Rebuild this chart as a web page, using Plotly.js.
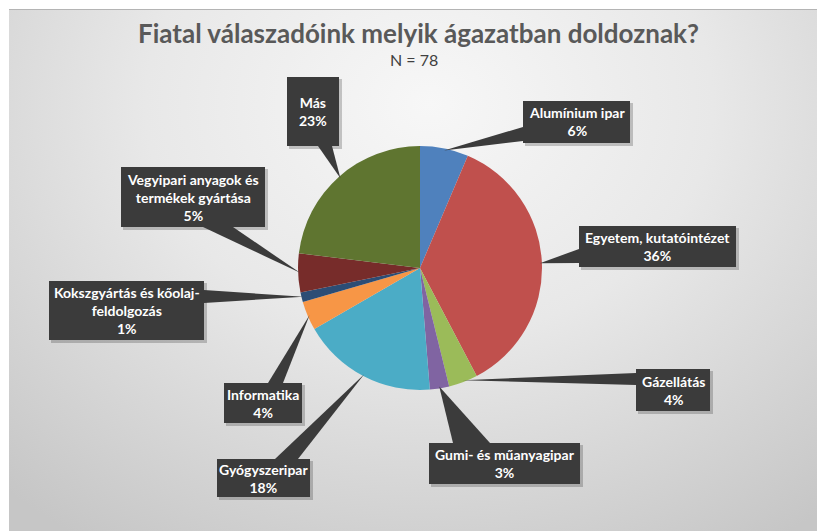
<!DOCTYPE html>
<html>
<head>
<meta charset="utf-8">
<script src="https://cdn.plot.ly/plotly-3.0.1.min.js"></script>
<style>
  html, body { margin: 0; padding: 0; background: #ffffff; }
  #wrap { position: relative; width: 817px; height: 531px; overflow: hidden; }
  #bg { position: absolute; left: 9px; top: 9px; width: 808px; height: 522px;
        border-top: 1px solid #b4b4b4; box-sizing: border-box;
        background: radial-gradient(ellipse 78% 100% at 52% 18%, #f7f7f7 0%, #e8e8e8 45%, #c6c6c6 100%); }
  #chart { position: absolute; left: 0; top: 0; width: 817px; height: 531px; }
</style>
</head>
<body>
<div id="wrap"><div id="bg"></div><div id="chart"></div></div>
<script>
// ---- data ----
const categories = ["Alumínium ipar", "Egyetem, kutatóintézet", "Gázellátás", "Gumi- és műanyagipar",
  "Gyógyszeripar", "Informatika", "Kokszgyártás és kőolaj-feldolgozás",
  "Vegyipari anyagok és termékek gyártása", "Más"];
const displayLabels = ["Alumínium ipar", "Egyetem, kutatóintézet", "Gázellátás", "Gumi- és műanyagipar",
  "Gyógyszeripar", "Informatika", "Kokszgyártás és kőolaj-<br>feldolgozás",
  "Vegyipari anyagok és<br>termékek gyártása", "Más"];
const counts = [5, 28, 3, 2, 14, 3, 1, 4, 18];
const sliceColors = ["#4F81BD", "#C0504D", "#9BBB59", "#8064A2", "#4BACC6", "#F79646", "#2C4D75", "#772C2A", "#5F7530"];
const titleText = "Fiatal válaszadóink melyik ágazatban doldoznak?";
const subtitleText = "N = 78";

// ---- layout (pixel geometry) ----
const W = 817, H = 531;
const CX = 420, CY = 268, R = 122;
// callout boxes [x0, y0, x1, y1]
const boxes = [
  [523, 101, 630, 143],
  [579, 226, 736, 267],
  [636, 369, 710, 411],
  [429, 443, 580, 484],
  [217, 459, 310, 497],
  [224, 383, 302, 423],
  [49, 281, 204, 340],
  [121, 167, 265, 227],
  [287, 77, 339, 146]
];
// wedge base points on the box edge [ax, ay, bx, by]
const bases = [
  [523, 127, 523, 141],
  [579, 249, 579, 263],
  [636, 373, 636, 385],
  [453, 443, 490, 443],
  [275, 459, 298, 459],
  [268, 383, 283, 383],
  [204, 290, 204, 303],
  [203, 227, 233, 227],
  [318, 146, 332, 146]
];

const px = x => x / W;
const py = y => 1 - y / H;

const total = counts.reduce((a, b) => a + b, 0);
const shapes = [];
const annotations = [];
let cum = 0;
counts.forEach((v, i) => {
  const mid = (cum + v / 2) / total * 2 * Math.PI;
  cum += v;
  const tx = CX + (R - 2) * Math.sin(mid);
  const ty = CY - (R - 2) * Math.cos(mid);
  const b = boxes[i], s = bases[i];
  shapes.push({type: 'rect', xref: 'paper', yref: 'paper',
    x0: px(b[0] + 2), x1: px(b[2] + 3), y0: py(b[1] + 2), y1: py(b[3] + 3),
    fillcolor: 'rgba(0,0,0,0.2)', line: {width: 0}});
  shapes.push({type: 'path', xref: 'paper', yref: 'paper',
    path: `M ${px(s[0])} ${py(s[1])} L ${px(tx)} ${py(ty)} L ${px(s[2])} ${py(s[3])} Z`,
    fillcolor: '#3b3b3b', line: {width: 0}});
  shapes.push({type: 'rect', xref: 'paper', yref: 'paper',
    x0: px(b[0]), x1: px(b[2]), y0: py(b[1]), y1: py(b[3]),
    fillcolor: '#3b3b3b', line: {width: 0}});
  const pct = Math.round(v / total * 100);
  annotations.push({xref: 'paper', yref: 'paper', x: px((b[0] + b[2]) / 2), y: py((b[1] + b[3]) / 2),
    xanchor: 'center', yanchor: 'middle', showarrow: false, align: 'center',
    text: `<b>${displayLabels[i]}<br>${pct}%</b>`,
    font: {family: 'Lato, "Open Sans", sans-serif', size: 14, color: '#ffffff'}});
});

annotations.push({xref: 'paper', yref: 'paper', x: px(418), y: py(33), xanchor: 'center', yanchor: 'middle',
  showarrow: false, text: `<b>${titleText}</b>`,
  font: {family: 'Lato, "Open Sans", sans-serif', size: 26, color: '#595959'}});
annotations.push({xref: 'paper', yref: 'paper', x: px(414), y: py(60), xanchor: 'center', yanchor: 'middle',
  showarrow: false, text: subtitleText,
  font: {family: 'Lato, "Open Sans", sans-serif', size: 16, color: '#404040'}});

const trace = {
  type: 'pie',
  labels: categories,
  values: counts,
  sort: false,
  direction: 'clockwise',
  rotation: 0,
  textinfo: 'none',
  hoverinfo: 'label+percent',
  marker: {colors: sliceColors, line: {width: 0}},
  domain: {x: [px(CX - R), px(CX + R)], y: [py(CY + R), py(CY - R)]},
  showlegend: false
};

Plotly.newPlot('chart', [trace], {
  width: W, height: H,
  margin: {l: 0, r: 0, t: 0, b: 0},
  paper_bgcolor: 'rgba(0,0,0,0)',
  plot_bgcolor: 'rgba(0,0,0,0)',
  showlegend: false,
  shapes: shapes,
  annotations: annotations
}, {displayModeBar: false, staticPlot: true});
</script>
</body>
</html>
